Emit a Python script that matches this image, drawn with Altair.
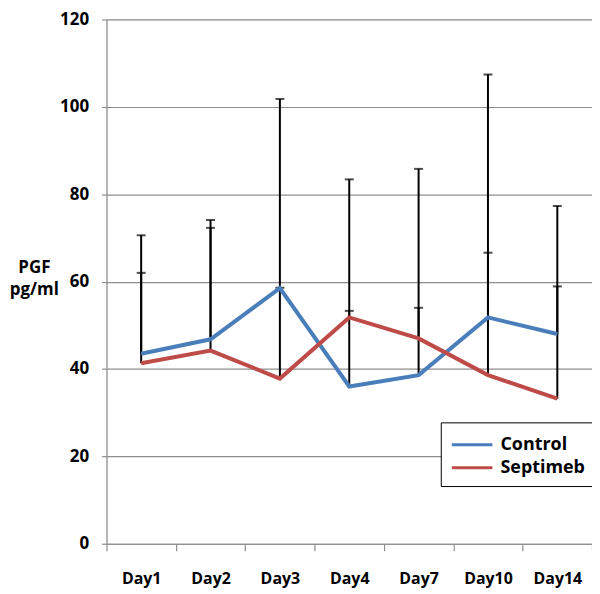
import altair as alt
import pandas as pd

days = ["Day1", "Day2", "Day3", "Day4", "Day7", "Day10", "Day14"]
series = ["Control", "Septimeb"]
control_mean = [43.5, 46.8, 58.5, 36.0, 38.6, 51.8, 48.0]
septimeb_mean = [41.3, 44.2, 37.8, 51.8, 47.0, 38.6, 33.2]
control_upper = [70.6, 74.1, 101.8, 53.3, 54.0, 107.4, 77.3]
septimeb_upper = [62.0, 72.3, 58.6, 83.4, 85.8, 66.6, 58.9]

rows = []
for i, d in enumerate(days):
    rows.append({"day": d, "series": "Control", "mean": control_mean[i], "upper": control_upper[i]})
    rows.append({"day": d, "series": "Septimeb", "mean": septimeb_mean[i], "upper": septimeb_upper[i]})
df = pd.DataFrame(rows)

FONT = "Open Sans"
GRID = "#8e8e8e"

x_enc = alt.X(
    "day:N", sort=days, title=None,
    scale=alt.Scale(paddingInner=0, paddingOuter=0),
    axis=alt.Axis(
        labelAngle=0, labelFont=FONT, labelFontWeight="bold", labelFontSize=16,
        labelColor="black", labelPadding=20, tickBand="extent", tickSize=7,
        tickColor=GRID, tickWidth=1.2, domainColor=GRID, domainWidth=1.2, grid=False,
    ),
)
y_scale = alt.Scale(domain=[0, 120], nice=False)
y_axis = alt.Axis(
    values=[0, 20, 40, 60, 80, 100, 120], title=["PGF", "pg/ml"],
    titleAngle=0, titleFont=FONT, titleFontWeight="bold", titleFontSize=17,
    titleColor="black", titleAlign="center", titleBaseline="alphabetic",
    titleX=-73, titleY=254, titleLineHeight=22,
    labelFont=FONT, labelFontWeight="bold", labelFontSize=17, labelColor="black",
    labelPadding=13, tickSize=5, tickColor=GRID, tickWidth=1.2, domainColor=GRID,
    domainWidth=1.2, gridColor=GRID, gridWidth=1.2,
)

rules = alt.Chart(df).mark_rule(color="black", strokeWidth=2).encode(
    x=x_enc,
    y=alt.Y("mean:Q", scale=y_scale, axis=y_axis),
    y2="upper:Q",
)
caps = alt.Chart(df).mark_tick(color="black", thickness=2, size=9).encode(
    x=alt.X("day:N", sort=days),
    y=alt.Y("upper:Q", scale=y_scale),
)
lines = alt.Chart(df).mark_line(strokeWidth=4).encode(
    x=alt.X("day:N", sort=days),
    y=alt.Y("mean:Q", scale=y_scale),
    color=alt.Color(
        "series:N",
        scale=alt.Scale(domain=series, range=["#4A7EBB", "#BE4B48"]),
        legend=alt.Legend(
            title=None, orient="none", legendX=336, legendY=405,
            fillColor="white", strokeColor="black",
            padding=9, symbolType="M-1.7,0H1.7", symbolSize=576,
            symbolOffset=9, symbolStrokeWidth=3, labelFont=FONT,
            labelFontWeight="bold", labelFontSize=18, labelColor="black",
            rowPadding=0, labelOffset=15,
        ),
    ),
)

chart = (rules + caps + lines).properties(
    width=488, height=527,
    autosize=alt.AutoSizeParams(type="none"),
    padding={"left": 99, "top": 10, "right": 0, "bottom": 49},
).configure_view(stroke=None).configure(background="white")

chart.save("out.html", embed_options={"renderer": "svg", "actions": False})
